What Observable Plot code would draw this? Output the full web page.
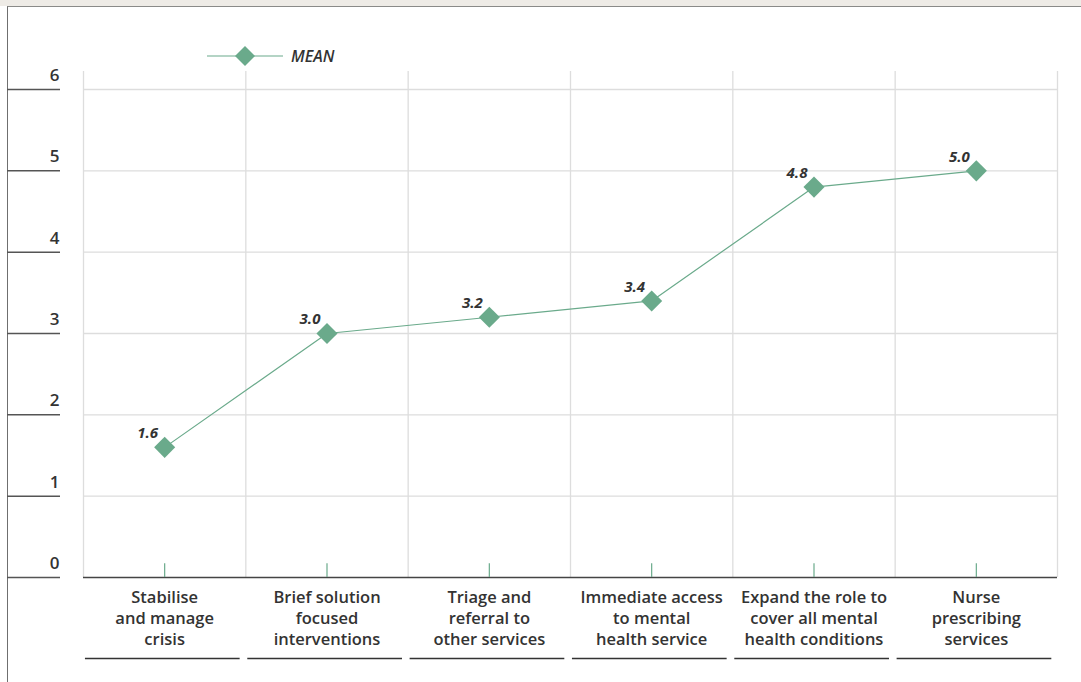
<!DOCTYPE html>
<html>
<head>
<meta charset="utf-8">
<script src="https://cdn.jsdelivr.net/npm/d3@7"></script>
<script src="https://cdn.jsdelivr.net/npm/@observablehq/plot@0.6"></script>
<style>
  html, body { margin: 0; padding: 0; background: #fff; }
  body { width: 1081px; height: 682px; position: relative; overflow: hidden; font-family: "Open Sans", sans-serif; }
  #topband { position: absolute; left: 0; top: 0; width: 1081px; height: 6px; background: #eeebe6; }
  #panel { position: absolute; left: 7px; top: 6px; width: 1074px; height: 676px; border-top: 1.5px solid #8a8a88; border-left: 1.5px solid #6f6f6f; box-sizing: border-box; background: #fff; }
  #legend { position: absolute; left: 207px; top: 44px; height: 24px; display: flex; align-items: center; }
  #legend span { font-style: italic; font-weight: 600; font-size: 16px; color: #333; margin-left: 7px; }
  #chart { position: absolute; left: 0; top: 70px; }
</style>
</head>
<body>
<div id="topband"></div>
<div id="panel"></div>
<div id="legend"></div>
<div id="chart"></div>
<script>
const categories = [
  "Stabilise\nand manage\ncrisis",
  "Brief solution\nfocused\ninterventions",
  "Triage and\nreferral to\nother services",
  "Immediate access\nto mental\nhealth service",
  "Expand the role to\ncover all mental\nhealth conditions",
  "Nurse\nprescribing\nservices"
];
const means = [1.6, 3.0, 3.2, 3.4, 4.8, 5.0];
const yTicks = [0, 1, 2, 3, 4, 5, 6];
const seriesName = "MEAN";

const green = "#6aaa8b";
const grid = "#dddddd";
const ink = "#333333";

const data = categories.map((label, i) => ({ i, label, x: i + 0.5, mean: means[i] }));
const boundaries = d3.range(categories.length + 1);

// legend
const lg = document.getElementById("legend");
lg.innerHTML = `<svg width="77" height="24"><line x1="0" y1="12" x2="76" y2="12" stroke="${green}" stroke-width="1.2"/><path d="M38,2 L48,12 L38,22 L28,12 Z" fill="${green}"/></svg><span>${seriesName}</span>`;

const chart = Plot.plot({
  width: 1081,
  height: 612,
  marginLeft: 83,
  marginRight: 24,
  marginTop: 19,
  marginBottom: 105,
  style: { fontFamily: "'Open Sans', sans-serif", background: "transparent", overflow: "visible" },
  x: { domain: [0, categories.length], axis: null },
  y: { domain: [0, 6] },
  marks: [
    Plot.ruleY(yTicks.filter(v => v > 0), { x1: 0, x2: categories.length, stroke: grid, strokeWidth: 1.3 }),
    Plot.ruleX(boundaries, { y1: 0, y2: 6.22, stroke: grid, strokeWidth: 1.3 }),
    Plot.ruleY([0], { x1: 0, x2: categories.length, stroke: "#444", strokeWidth: 1.3 }),
    Plot.axisY(yTicks, { tickSize: 53, dx: -23, tickFormat: () => "", stroke: "#555", strokeWidth: 1.5, label: null }),
    Plot.text(yTicks, { y: d => d, text: d => String(d), frameAnchor: "left", textAnchor: "end", dx: -24, dy: -14, fontSize: 17, fontWeight: 600, fill: ink }),
    Plot.ruleX(data, { x: "x", y1: 0, y2: 0.17, stroke: green, strokeWidth: 1.2 }),
    Plot.text(data, { x: "x", y: 0, text: "label", lineAnchor: "top", dy: 11, lineHeight: 1.27, fontSize: 16.5, fontWeight: 600, fill: ink }),
    Plot.ruleY(data, { y: 0, x1: d => d.i + 0.012, x2: d => d.i + 0.965, dy: 81, stroke: "#333", strokeWidth: 1.3 }),
    Plot.line(data, { x: "x", y: "mean", stroke: green, strokeWidth: 1.2 }),
    Plot.dot(data, { x: "x", y: "mean", symbol: "diamond2", r: 9.5, fill: green, stroke: "none" }),
    Plot.text(data, { x: "x", y: "mean", text: d => d.mean.toFixed(1), dx: -17, dy: -14, fontStyle: "italic", fontWeight: 700, fontSize: 15, fill: ink })
  ]
});
document.getElementById("chart").appendChild(chart);
</script>
</body>
</html>
